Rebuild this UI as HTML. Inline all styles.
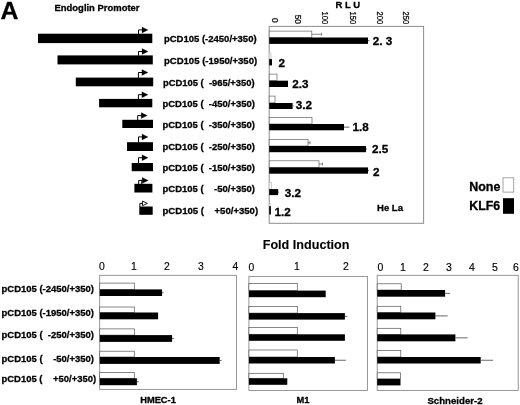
<!DOCTYPE html>
<html lang="en"><head><meta charset="utf-8"><title>Figure A</title>
<style>
html,body{margin:0;padding:0;background:#fff;}
body{width:520px;height:405px;overflow:hidden;}
svg{display:block;font-family:"Liberation Sans",sans-serif;}
text{white-space:pre;fill:#000;}
.b{stroke:#000;stroke-width:0.3px;}
</style></head><body>
<svg width="520" height="405" viewBox="0 0 520 405">
<rect x="0" y="0" width="520" height="405" fill="#fff"/>
<text x="0.50" y="19.00" font-size="24.8" font-weight="bold" text-anchor="start" class="b" >A</text>
<text x="54.50" y="11.40" font-size="9.6" font-weight="bold" text-anchor="start" textLength="85" lengthAdjust="spacingAndGlyphs" class="b" >Endoglin Promoter</text>
<rect x="38.00" y="33.70" width="114.30" height="9.40" fill="#000"/>
<text x="163.90" y="41.90" font-size="9.9" font-weight="bold" text-anchor="start" textLength="92.7" lengthAdjust="spacingAndGlyphs" class="b" >pCD105 (-2450/+350)</text>
<path d="M138.50 34.00 V29.90 H142.50" fill="none" stroke="#000" stroke-width="1"/>
<path d="M142.00 26.90 L148.10 29.90 L142.00 32.90 Z" fill="#000" stroke="#000" stroke-width="0.2"/>
<rect x="57.50" y="55.40" width="95.30" height="9.00" fill="#000"/>
<text x="163.90" y="63.60" font-size="9.9" font-weight="bold" text-anchor="start" textLength="93.3" lengthAdjust="spacingAndGlyphs" class="b" >pCD105 (-1950/+350)</text>
<path d="M138.50 55.70 V51.50 H142.50" fill="none" stroke="#000" stroke-width="1"/>
<path d="M142.00 48.50 L148.10 51.50 L142.00 54.50 Z" fill="#000" stroke="#000" stroke-width="0.2"/>
<rect x="75.80" y="77.60" width="77.40" height="8.70" fill="#000"/>
<text x="162.90" y="85.75" font-size="9.9" font-weight="bold" text-anchor="start" textLength="91.8" lengthAdjust="spacingAndGlyphs" class="b" >pCD105 (  -965/+350)</text>
<path d="M138.40 77.90 V72.50 H142.40" fill="none" stroke="#000" stroke-width="1"/>
<path d="M141.90 69.50 L148.00 72.50 L141.90 75.50 Z" fill="#000" stroke="#000" stroke-width="0.2"/>
<rect x="99.10" y="98.90" width="53.20" height="8.40" fill="#000"/>
<text x="162.50" y="107.20" font-size="9.9" font-weight="bold" text-anchor="start" textLength="92.4" lengthAdjust="spacingAndGlyphs" class="b" >pCD105 (  -450/+350)</text>
<path d="M138.40 99.20 V94.70 H142.40" fill="none" stroke="#000" stroke-width="1"/>
<path d="M141.90 91.70 L148.00 94.70 L141.90 97.70 Z" fill="#000" stroke="#000" stroke-width="0.2"/>
<rect x="122.30" y="119.80" width="30.70" height="8.20" fill="#000"/>
<text x="162.50" y="128.00" font-size="9.9" font-weight="bold" text-anchor="start" textLength="92.4" lengthAdjust="spacingAndGlyphs" class="b" >pCD105 (  -350/+350)</text>
<path d="M137.70 120.10 V115.60 H141.70" fill="none" stroke="#000" stroke-width="1"/>
<path d="M141.20 112.60 L147.30 115.60 L141.20 118.60 Z" fill="#000" stroke="#000" stroke-width="0.2"/>
<rect x="127.00" y="142.20" width="26.00" height="8.80" fill="#000"/>
<text x="162.50" y="150.20" font-size="9.9" font-weight="bold" text-anchor="start" textLength="92.4" lengthAdjust="spacingAndGlyphs" class="b" >pCD105 (  -250/+350)</text>
<path d="M138.50 142.50 V136.90 H142.50" fill="none" stroke="#000" stroke-width="1"/>
<path d="M142.00 133.90 L148.10 136.90 L142.00 139.90 Z" fill="#000" stroke="#000" stroke-width="0.2"/>
<rect x="131.70" y="163.00" width="21.30" height="8.20" fill="#000"/>
<text x="162.50" y="171.10" font-size="9.9" font-weight="bold" text-anchor="start" textLength="92.4" lengthAdjust="spacingAndGlyphs" class="b" >pCD105 (  -150/+350)</text>
<path d="M138.50 163.30 V157.70 H142.50" fill="none" stroke="#000" stroke-width="1"/>
<path d="M142.00 154.70 L148.10 157.70 L142.00 160.70 Z" fill="#000" stroke="#000" stroke-width="0.2"/>
<rect x="134.40" y="183.80" width="18.00" height="8.70" fill="#000"/>
<text x="162.50" y="191.75" font-size="9.9" font-weight="bold" text-anchor="start" textLength="92.4" lengthAdjust="spacingAndGlyphs" class="b" >pCD105 (    -50/+350)</text>
<path d="M138.70 184.10 V180.40 H142.70" fill="none" stroke="#000" stroke-width="1"/>
<path d="M141.70 180.40 V184.10" fill="none" stroke="#000" stroke-width="0.9"/>
<path d="M142.20 177.40 L148.30 180.40 L142.20 183.40 Z" fill="#000" stroke="#000" stroke-width="0.2"/>
<rect x="139.30" y="206.50" width="13.40" height="8.30" fill="#000"/>
<text x="162.50" y="214.25" font-size="9.9" font-weight="bold" text-anchor="start" textLength="95.6" lengthAdjust="spacingAndGlyphs" class="b" >pCD105 (    +50/+350)</text>
<path d="M139.9 206.80 V203.40 H142.6" fill="none" stroke="#000" stroke-width="1"/>
<path d="M142.5 201.10 L147.4 203.40 L142.5 205.70 Z" fill="#fff" stroke="#000" stroke-width="0.9"/>
<rect x="269.20" y="26.40" width="154.40" height="196.90" fill="none" stroke="#8c8c8c" stroke-width="1"/>
<text x="335.40" y="7.80" font-size="9.4" font-weight="bold" text-anchor="start" textLength="24.6" lengthAdjust="spacingAndGlyphs" class="b" >R L U</text>
<text transform="translate(271.50 22.70) rotate(90)" font-size="8.3" font-weight="normal" text-anchor="end" style="stroke:#000;stroke-width:0.25px">0</text>
<text transform="translate(294.50 23.90) rotate(90)" font-size="8.3" font-weight="normal" text-anchor="end" style="stroke:#000;stroke-width:0.25px">50</text>
<text transform="translate(322.00 24.20) rotate(90)" font-size="8.3" font-weight="normal" text-anchor="end" style="stroke:#000;stroke-width:0.25px" textLength="12.7" lengthAdjust="spacingAndGlyphs">100</text>
<text transform="translate(349.50 24.20) rotate(90)" font-size="8.3" font-weight="normal" text-anchor="end" style="stroke:#000;stroke-width:0.25px" textLength="12.7" lengthAdjust="spacingAndGlyphs">150</text>
<text transform="translate(376.50 24.20) rotate(90)" font-size="8.3" font-weight="normal" text-anchor="end" style="stroke:#000;stroke-width:0.25px" textLength="12.7" lengthAdjust="spacingAndGlyphs">200</text>
<text transform="translate(402.50 24.20) rotate(90)" font-size="8.3" font-weight="normal" text-anchor="end" style="stroke:#000;stroke-width:0.25px" textLength="12.7" lengthAdjust="spacingAndGlyphs">250</text>
<rect x="269.20" y="31.10" width="42.60" height="6.30" fill="#fff" stroke="#666" stroke-width="0.7"/>
<line x1="311.80" y1="34.25" x2="321.60" y2="34.25" stroke="#555" stroke-width="0.7"/>
<line x1="321.60" y1="32.75" x2="321.60" y2="35.75" stroke="#555" stroke-width="0.7"/>
<rect x="269.20" y="37.50" width="98.80" height="6.40" fill="#000"/>
<line x1="368.00" y1="40.70" x2="369.50" y2="40.70" stroke="#333" stroke-width="0.8"/>
<text x="372.80" y="45.20" font-size="11.7" font-weight="bold" text-anchor="start" class="b" >2. 3</text>
<rect x="269.20" y="53.00" width="1.80" height="6.00" fill="#fff" stroke="#bbb" stroke-width="0.7"/>
<rect x="269.20" y="59.10" width="2.80" height="6.30" fill="#000"/>
<text x="278.60" y="66.90" font-size="11.7" font-weight="bold" text-anchor="start" class="b" >2</text>
<rect x="269.20" y="74.10" width="7.80" height="6.50" fill="#fff" stroke="#666" stroke-width="0.7"/>
<rect x="269.20" y="80.70" width="18.80" height="6.30" fill="#000"/>
<text x="292.30" y="87.50" font-size="11.7" font-weight="bold" text-anchor="start" class="b" >2.3</text>
<rect x="269.20" y="96.10" width="5.80" height="6.70" fill="#fff" stroke="#666" stroke-width="0.7"/>
<rect x="269.20" y="103.00" width="23.40" height="6.00" fill="#000"/>
<line x1="292.60" y1="106.00" x2="293.60" y2="106.00" stroke="#333" stroke-width="0.8"/>
<text x="295.80" y="109.40" font-size="11.7" font-weight="bold" text-anchor="start" class="b" >3.2</text>
<rect x="269.20" y="117.50" width="42.80" height="6.50" fill="#fff" stroke="#666" stroke-width="0.7"/>
<rect x="269.20" y="124.00" width="74.80" height="6.30" fill="#000"/>
<line x1="344.00" y1="127.15" x2="349.30" y2="127.15" stroke="#333" stroke-width="0.8"/>
<text x="352.50" y="131.20" font-size="11.7" font-weight="bold" text-anchor="start" class="b" >1.8</text>
<rect x="269.20" y="139.50" width="38.80" height="6.50" fill="#fff" stroke="#666" stroke-width="0.7"/>
<line x1="308.00" y1="142.75" x2="310.00" y2="142.75" stroke="#555" stroke-width="0.7"/>
<line x1="310.00" y1="141.25" x2="310.00" y2="144.25" stroke="#555" stroke-width="0.7"/>
<rect x="269.20" y="146.00" width="96.80" height="6.20" fill="#000"/>
<line x1="366.00" y1="149.10" x2="367.00" y2="149.10" stroke="#333" stroke-width="0.8"/>
<text x="372.00" y="152.60" font-size="11.7" font-weight="bold" text-anchor="start" class="b" >2.5</text>
<rect x="269.20" y="160.80" width="49.80" height="6.50" fill="#fff" stroke="#666" stroke-width="0.7"/>
<line x1="319.00" y1="164.05" x2="322.50" y2="164.05" stroke="#555" stroke-width="0.7"/>
<line x1="322.50" y1="162.55" x2="322.50" y2="165.55" stroke="#555" stroke-width="0.7"/>
<rect x="269.20" y="167.40" width="98.80" height="6.30" fill="#000"/>
<line x1="368.00" y1="170.55" x2="369.00" y2="170.55" stroke="#333" stroke-width="0.8"/>
<text x="373.10" y="175.80" font-size="11.7" font-weight="bold" text-anchor="start" class="b" >2</text>
<rect x="269.20" y="182.30" width="2.40" height="6.70" fill="#fff" stroke="#bbb" stroke-width="0.7"/>
<rect x="269.20" y="189.10" width="9.00" height="6.00" fill="#000"/>
<line x1="278.20" y1="192.10" x2="279.00" y2="192.10" stroke="#333" stroke-width="0.8"/>
<text x="284.70" y="197.40" font-size="11.7" font-weight="bold" text-anchor="start" class="b" >3.2</text>
<rect x="269.20" y="203.50" width="1.10" height="2.70" fill="#fff" stroke="#bbb" stroke-width="0.7"/>
<rect x="269.20" y="206.20" width="1.70" height="8.30" fill="#000"/>
<text x="274.40" y="216.00" font-size="11.7" font-weight="bold" text-anchor="start" class="b" >1.2</text>
<text x="377.00" y="210.70" font-size="9.4" font-weight="bold" text-anchor="start" textLength="26" lengthAdjust="spacingAndGlyphs" class="b" >He La</text>
<text x="469.20" y="190.50" font-size="12.3" font-weight="bold" text-anchor="start" textLength="31.2" lengthAdjust="spacingAndGlyphs" class="b" >None</text>
<rect x="503.00" y="177.80" width="10.70" height="14.30" fill="#fff" stroke="#9a9a9a" stroke-width="0.9"/>
<text x="469.20" y="209.50" font-size="12.3" font-weight="bold" text-anchor="start" textLength="31" lengthAdjust="spacingAndGlyphs" class="b" >KLF6</text>
<rect x="503.00" y="198.20" width="11.00" height="15.60" fill="#000"/>
<text x="262.70" y="249.00" font-size="12.5" font-weight="bold" text-anchor="start" textLength="86.8" lengthAdjust="spacingAndGlyphs" class="b" style="stroke-width:0.1px">Fold Induction</text>
<rect x="99.70" y="275.30" width="136.80" height="114.10" fill="none" stroke="#858585" stroke-width="0.85"/>
<text x="102.00" y="270.40" font-size="10.4" font-weight="normal" text-anchor="middle" style="stroke:#000;stroke-width:0.15px">0</text>
<text x="134.00" y="270.40" font-size="10.4" font-weight="normal" text-anchor="middle" style="stroke:#000;stroke-width:0.15px">1</text>
<text x="167.00" y="270.40" font-size="10.4" font-weight="normal" text-anchor="middle" style="stroke:#000;stroke-width:0.15px">2</text>
<text x="201.00" y="270.40" font-size="10.4" font-weight="normal" text-anchor="middle" style="stroke:#000;stroke-width:0.15px">3</text>
<text x="235.50" y="270.40" font-size="10.4" font-weight="normal" text-anchor="middle" style="stroke:#000;stroke-width:0.15px">4</text>
<rect x="99.70" y="283.10" width="34.60" height="6.30" fill="#fff" stroke="#555" stroke-width="0.7"/>
<rect x="99.70" y="289.40" width="62.40" height="6.60" fill="#000"/>
<line x1="162.10" y1="292.70" x2="163.60" y2="292.70" stroke="#444" stroke-width="0.8"/>
<rect x="99.70" y="307.00" width="34.60" height="5.50" fill="#fff" stroke="#555" stroke-width="0.7"/>
<rect x="99.70" y="312.50" width="58.40" height="6.80" fill="#000"/>
<rect x="99.70" y="328.90" width="34.60" height="6.20" fill="#fff" stroke="#555" stroke-width="0.7"/>
<rect x="99.70" y="335.10" width="72.40" height="6.80" fill="#000"/>
<line x1="172.10" y1="338.50" x2="174.10" y2="338.50" stroke="#444" stroke-width="0.8"/>
<rect x="99.70" y="351.20" width="34.60" height="5.80" fill="#fff" stroke="#555" stroke-width="0.7"/>
<rect x="99.70" y="357.00" width="120.00" height="6.90" fill="#000"/>
<line x1="219.70" y1="360.45" x2="221.70" y2="360.45" stroke="#444" stroke-width="0.8"/>
<rect x="99.70" y="372.40" width="34.60" height="5.90" fill="#fff" stroke="#555" stroke-width="0.7"/>
<rect x="99.70" y="378.30" width="37.20" height="6.90" fill="#000"/>
<line x1="136.90" y1="381.75" x2="138.90" y2="381.75" stroke="#444" stroke-width="0.8"/>
<text x="158.00" y="402.70" font-size="9.3" font-weight="bold" text-anchor="middle" class="b" >HMEC-1</text>
<rect x="248.90" y="276.40" width="118.50" height="114.00" fill="none" stroke="#858585" stroke-width="0.85"/>
<text x="251.50" y="271.30" font-size="10.4" font-weight="normal" text-anchor="middle" style="stroke:#000;stroke-width:0.15px">0</text>
<text x="297.00" y="270.30" font-size="10.4" font-weight="normal" text-anchor="middle" style="stroke:#000;stroke-width:0.15px">1</text>
<text x="346.00" y="270.00" font-size="10.4" font-weight="normal" text-anchor="middle" style="stroke:#000;stroke-width:0.15px">2</text>
<rect x="248.90" y="283.50" width="48.40" height="7.10" fill="#fff" stroke="#555" stroke-width="0.7"/>
<rect x="248.90" y="290.60" width="76.80" height="6.60" fill="#000"/>
<rect x="248.90" y="306.50" width="48.40" height="6.60" fill="#fff" stroke="#555" stroke-width="0.7"/>
<rect x="248.90" y="313.10" width="96.00" height="6.50" fill="#000"/>
<line x1="344.90" y1="316.35" x2="347.40" y2="316.35" stroke="#444" stroke-width="0.8"/>
<rect x="248.90" y="327.40" width="48.40" height="6.90" fill="#fff" stroke="#555" stroke-width="0.7"/>
<rect x="248.90" y="334.30" width="96.00" height="6.50" fill="#000"/>
<rect x="248.90" y="350.00" width="48.40" height="7.00" fill="#fff" stroke="#555" stroke-width="0.7"/>
<rect x="248.90" y="357.00" width="86.00" height="6.50" fill="#000"/>
<line x1="334.90" y1="360.25" x2="345.90" y2="360.25" stroke="#444" stroke-width="0.8"/>
<rect x="248.90" y="373.30" width="34.40" height="5.00" fill="#fff" stroke="#555" stroke-width="0.7"/>
<rect x="248.90" y="378.30" width="38.40" height="6.50" fill="#000"/>
<text x="303.00" y="402.90" font-size="9.3" font-weight="bold" text-anchor="middle" class="b" >M1</text>
<rect x="377.20" y="275.30" width="141.00" height="115.10" fill="none" stroke="#858585" stroke-width="0.85"/>
<text x="380.50" y="271.30" font-size="10.5" font-weight="normal" text-anchor="middle" style="stroke:#000;stroke-width:0.15px">0</text>
<text x="403.00" y="271.30" font-size="10.5" font-weight="normal" text-anchor="middle" style="stroke:#000;stroke-width:0.15px">1</text>
<text x="426.00" y="271.30" font-size="10.5" font-weight="normal" text-anchor="middle" style="stroke:#000;stroke-width:0.15px">2</text>
<text x="449.00" y="271.30" font-size="10.5" font-weight="normal" text-anchor="middle" style="stroke:#000;stroke-width:0.15px">3</text>
<text x="472.00" y="271.30" font-size="10.5" font-weight="normal" text-anchor="middle" style="stroke:#000;stroke-width:0.15px">4</text>
<text x="495.00" y="271.30" font-size="10.5" font-weight="normal" text-anchor="middle" style="stroke:#000;stroke-width:0.15px">5</text>
<text x="516.00" y="271.30" font-size="10.5" font-weight="normal" text-anchor="middle" style="stroke:#000;stroke-width:0.15px">6</text>
<rect x="377.20" y="283.80" width="24.00" height="6.20" fill="#fff" stroke="#555" stroke-width="0.7"/>
<rect x="377.20" y="290.00" width="67.90" height="6.70" fill="#000"/>
<line x1="445.10" y1="293.35" x2="450.10" y2="293.35" stroke="#444" stroke-width="0.8"/>
<rect x="377.20" y="306.30" width="23.60" height="6.20" fill="#fff" stroke="#555" stroke-width="0.7"/>
<rect x="377.20" y="312.50" width="58.20" height="6.80" fill="#000"/>
<line x1="435.40" y1="315.90" x2="447.70" y2="315.90" stroke="#444" stroke-width="0.8"/>
<rect x="377.20" y="328.30" width="23.60" height="6.10" fill="#fff" stroke="#555" stroke-width="0.7"/>
<rect x="377.20" y="334.40" width="78.20" height="6.90" fill="#000"/>
<line x1="455.40" y1="337.85" x2="467.70" y2="337.85" stroke="#444" stroke-width="0.8"/>
<rect x="377.20" y="350.60" width="23.60" height="6.40" fill="#fff" stroke="#555" stroke-width="0.7"/>
<rect x="377.20" y="357.00" width="103.50" height="6.50" fill="#000"/>
<line x1="480.70" y1="360.25" x2="493.10" y2="360.25" stroke="#444" stroke-width="0.8"/>
<rect x="377.20" y="372.80" width="23.30" height="6.10" fill="#fff" stroke="#555" stroke-width="0.7"/>
<rect x="377.20" y="378.90" width="23.30" height="6.50" fill="#000"/>
<text x="455.00" y="403.60" font-size="9.65" font-weight="bold" text-anchor="middle" class="b" >Schneider-2</text>
<text x="1.50" y="292.30" font-size="9.9" font-weight="bold" text-anchor="start" textLength="92.5" lengthAdjust="spacingAndGlyphs" class="b" >pCD105 (-2450/+350)</text>
<text x="1.50" y="316.30" font-size="9.9" font-weight="bold" text-anchor="start" textLength="92.5" lengthAdjust="spacingAndGlyphs" class="b" >pCD105 (-1950/+350)</text>
<text x="1.50" y="338.40" font-size="9.9" font-weight="bold" text-anchor="start" textLength="92.5" lengthAdjust="spacingAndGlyphs" class="b" >pCD105 (  -250/+350)</text>
<text x="1.50" y="361.80" font-size="9.9" font-weight="bold" text-anchor="start" textLength="92.5" lengthAdjust="spacingAndGlyphs" class="b" >pCD105 (    -50/+350)</text>
<text x="1.50" y="382.10" font-size="9.9" font-weight="bold" text-anchor="start" textLength="94.6" lengthAdjust="spacingAndGlyphs" class="b" >pCD105 (    +50/+350)</text>
</svg></body></html>
